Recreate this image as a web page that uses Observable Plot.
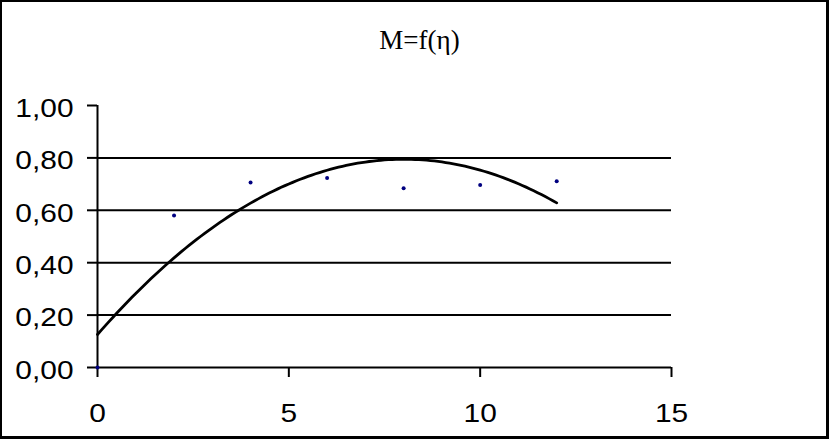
<!DOCTYPE html>
<html><head><meta charset="utf-8">
<script src="https://cdn.jsdelivr.net/npm/d3@7"></script>
<script src="https://cdn.jsdelivr.net/npm/@observablehq/plot@0.6"></script>
<style>
body{margin:0;background:#fff}
#wrap{position:relative;width:829px;height:439px;overflow:hidden;background:#fff}
#wrap svg{position:absolute;left:0;top:0}
#title{position:absolute;left:5px;width:829px;top:27px;text-align:center;font-family:"Liberation Serif","Times New Roman",serif;font-size:27px;line-height:1;color:#000;white-space:nowrap}
#border{position:absolute;left:0;top:0;right:0;bottom:0;border:2px solid #000;border-right-width:3px;border-bottom-width:3px;box-sizing:border-box;pointer-events:none}
</style></head>
<body>
<div id="wrap"><div id="title"></div><div id="border"></div></div>
<script>
const title = "M=f(η)";
const eta = [0, 2, 4, 6, 8, 10, 12];
const M = [0, 0.58, 0.706, 0.723, 0.684, 0.697, 0.711];
const xTicks = [0, 5, 10, 15];
const yTicks = [0, 0.2, 0.4, 0.6, 0.8, 1.0];

const points = eta.map((x, i) => ({eta: x, M: M[i]}));

// 2nd-order polynomial trendline (least squares) computed from the data
function polyFit2(xs, ys) {
  const S = [0,0,0,0,0], T = [0,0,0];
  xs.forEach((x, i) => {
    for (let k = 0; k < 5; k++) S[k] += Math.pow(x, k);
    for (let k = 0; k < 3; k++) T[k] += ys[i] * Math.pow(x, k);
  });
  const A = [[S[0],S[1],S[2],T[0]],[S[1],S[2],S[3],T[1]],[S[2],S[3],S[4],T[2]]];
  for (let c = 0; c < 3; c++) {
    let p = c; for (let r = c+1; r < 3; r++) if (Math.abs(A[r][c]) > Math.abs(A[p][c])) p = r;
    [A[c], A[p]] = [A[p], A[c]];
    for (let r = 0; r < 3; r++) if (r !== c) {
      const f = A[r][c] / A[c][c];
      for (let k = c; k < 4; k++) A[r][k] -= f * A[c][k];
    }
  }
  return [A[0][3]/A[0][0], A[1][3]/A[1][1], A[2][3]/A[2][2]];
}
const coef = polyFit2(eta, M);
const x0 = d3.min(eta), x1 = d3.max(eta);
const trend = d3.range(0, 121).map(i => {
  const x = x0 + (x1 - x0) * i / 120;
  return {x, y: coef[0] + coef[1]*x + coef[2]*x*x};
});

document.getElementById("title").textContent = title;

const chart = Plot.plot({
  width: 829, height: 439,
  marginLeft: 97, marginRight: 158, marginTop: 105, marginBottom: 72,
  x: {domain: [0, 15]},
  y: {domain: [0, 1]},
  style: {fontFamily: "'Liberation Sans', Arial, sans-serif", fontSize: "26px", color: "#000", background: "transparent", overflow: "visible"},
  marks: [
    Plot.ruleY(yTicks.filter(d => d > 0 && d < 1), {stroke: "#000", strokeWidth: 2}),
    Plot.ruleY([0], {stroke: "#000", strokeWidth: 2}),
    Plot.ruleX([0], {y1: 0, y2: 1, stroke: "#000", strokeWidth: 2}),
    Plot.axisY({ticks: yTicks, tickSize: 10, tickPadding: 14, strokeWidth: 2, tickFormat: d => d.toFixed(2).replace(".", ","), label: null}),
    Plot.axisX({ticks: xTicks, tickSize: 10, tickPadding: 26, strokeWidth: 2, tickFormat: d => String(d), label: null}),
    Plot.line(trend, {x: "x", y: "y", stroke: "#000", strokeWidth: 2.8}),
    Plot.dot(points, {x: "eta", y: "M", r: 2, fill: "#000080", stroke: "none"})
  ]
});
// widen the tick-label glyphs horizontally, as in the reference; nudge y labels down slightly
d3.select(chart).selectAll('g[aria-label="y-axis tick label"] text')
  .each(function() {
    const t = this.getAttribute("transform") || "";
    this.setAttribute("transform", "translate(0,3) " + t + " scale(1.15,1)");
  });
d3.select(chart).selectAll('g[aria-label="x-axis tick label"] text')
  .each(function() {
    const t = this.getAttribute("transform") || "";
    this.setAttribute("transform", t + " scale(1.15,1)");
  });
document.getElementById("wrap").insertBefore(chart, document.getElementById("title"));
</script>
</body></html>
